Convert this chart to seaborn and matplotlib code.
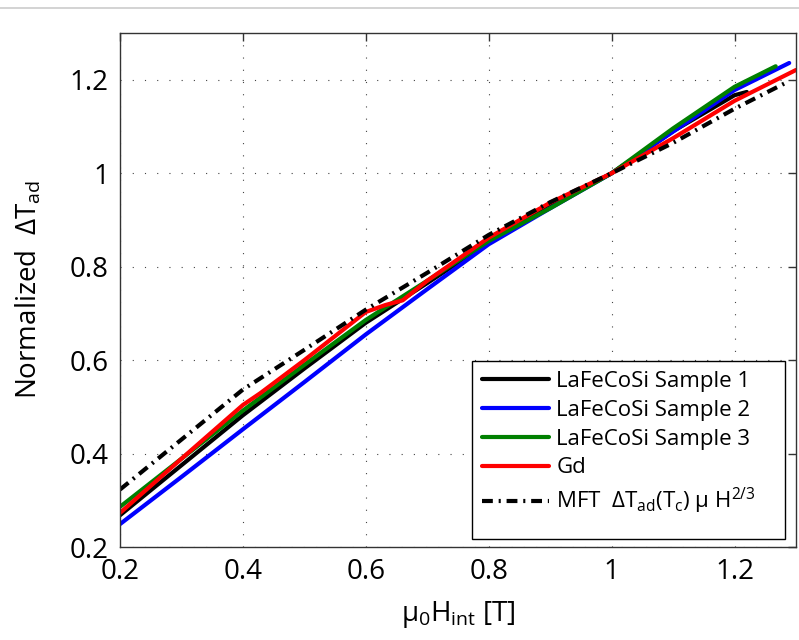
import pandas as pd
import matplotlib.pyplot as plt
import seaborn as sns
from matplotlib.lines import Line2D
from matplotlib.patches import Rectangle

# Normalized adiabatic temperature change vs internal field
sample1_x = [0.2, 0.3, 0.4, 0.5, 0.6, 0.7, 0.8, 0.9, 1.0, 1.1, 1.2, 1.22]
sample1_y = [0.268, 0.375, 0.482, 0.582, 0.68, 0.765, 0.852, 0.93, 1.0, 1.09, 1.167, 1.174]

sample2_x = [0.2, 0.3, 0.4, 0.5, 0.6, 0.7, 0.8, 0.9, 1.0, 1.1, 1.2, 1.289]
sample2_y = [0.249, 0.35, 0.452, 0.553, 0.655, 0.752, 0.848, 0.925, 1.0, 1.089, 1.178, 1.236]

sample3_x = [0.2, 0.3, 0.4, 0.5, 0.6, 0.7, 0.8, 0.9, 1.0, 1.1, 1.2, 1.267]
sample3_y = [0.286, 0.389, 0.492, 0.59, 0.686, 0.77, 0.855, 0.925, 1.0, 1.096, 1.185, 1.229]

gd_x = [0.2, 0.3, 0.4, 0.428, 0.5, 0.6, 0.632, 0.66, 0.7, 0.8, 0.9, 1.0, 1.1, 1.2, 1.3]
gd_y = [0.273, 0.389, 0.504, 0.529, 0.60, 0.703, 0.718, 0.728, 0.77, 0.862, 0.937, 1.0, 1.075, 1.155, 1.221]

mft_x = [0.2, 0.3, 0.4, 0.5, 0.6, 0.7, 0.8, 0.9, 1.0, 1.1, 1.2, 1.287]
mft_y = [0.323, 0.43, 0.537, 0.622, 0.708, 0.787, 0.868, 0.938, 1.0, 1.065, 1.138, 1.196]

labels = ['LaFeCoSi Sample 1', 'LaFeCoSi Sample 2', 'LaFeCoSi Sample 3', 'Gd',
          r'MFT  $\Delta$T$_{\mathrm{ad}}$(T$_{\mathrm{c}}$) $\mu$ H$^{2/3}$']
colors = ['black', '#0000ff', '#008000', '#ff0000', 'black']

xticks = [0.2, 0.4, 0.6, 0.8, 1.0, 1.2]
xticklabels = ['0.2', '0.4', '0.6', '0.8', '1', '1.2']
yticks = [0.2, 0.4, 0.6, 0.8, 1.0, 1.2]
yticklabels = ['0.2', '0.4', '0.6', '0.8', '1', '1.2']

sns.set_style('white')
plt.rcParams['font.family'] = ['Open Sans', 'DejaVu Sans']
plt.rcParams['text.color'] = 'black'
plt.rcParams['axes.labelcolor'] = 'black'
plt.rcParams['mathtext.fontset'] = 'custom'
plt.rcParams['mathtext.rm'] = 'Open Sans'
plt.rcParams['mathtext.it'] = 'Open Sans'
plt.rcParams['mathtext.bf'] = 'Open Sans:bold'

W, H = 799, 640
fig = plt.figure(figsize=(W / 100, H / 100), dpi=100)
ax = fig.add_axes([0.1502, 0.1453, 0.846, 0.803])

series = [(sample1_x, sample1_y), (sample2_x, sample2_y), (sample3_x, sample3_y),
          (gd_x, gd_y), (mft_x, mft_y)]
for i, (xs, ys) in enumerate(series):
    df = pd.DataFrame({'H': xs, 'dT': ys})
    ls = (0, (2.6, 1.4, 0.5, 1.4)) if i == 4 else '-'
    sns.lineplot(data=df, x='H', y='dT', ax=ax, color=colors[i], lw=3,
                 linestyle=ls, sort=False, estimator=None, label=labels[i])

ax.set_xlim(0.2, 1.3)
ax.set_ylim(0.2, 1.3)
ax.set_xticks(xticks)
ax.set_xticklabels(xticklabels)
ax.set_yticks(yticks)
ax.set_yticklabels(yticklabels)
ax.tick_params(direction='in', length=6, width=1, top=True, right=True,
               labelsize=20, colors='#333333', labelcolor='black')
ax.tick_params(axis='x', pad=8)
ax.tick_params(axis='y', pad=8)
ax.grid(True, color='#444444', linestyle=(0, (1, 10)), linewidth=0.8)
for s in ax.spines.values():
    s.set_color('#333333')
    s.set_linewidth(1)

ax.set_xlabel(r'$\mu_{\mathrm{0}}$H$_{\mathrm{int}}$ [T]', fontsize=20, labelpad=9)
ax.set_ylabel(r'Normalized  $\Delta$T$_{\mathrm{ad}}$', fontsize=20, labelpad=19)

# legend box drawn separately (matlab-style box with extra right padding)
box = Rectangle((472 / W, 1 - 539 / H), 313 / W, 178 / H, transform=fig.transFigure,
                facecolor='white', edgecolor='black', lw=1, zorder=4.5)
ax.add_patch(box)
leg = ax.legend(loc='upper left', bbox_to_anchor=(472 / W, 1 - 361 / H),
                bbox_transform=fig.transFigure, borderaxespad=0,
                fontsize=16, frameon=False, handlelength=3.0, handletextpad=0.35,
                labelspacing=0.35, borderpad=0.45)

fig.add_artist(Line2D([0, 1], [1 - 8 / H, 1 - 8 / H], color='#cccccc', lw=1.2))

fig.savefig('out.png', dpi=100)
plt.close()
